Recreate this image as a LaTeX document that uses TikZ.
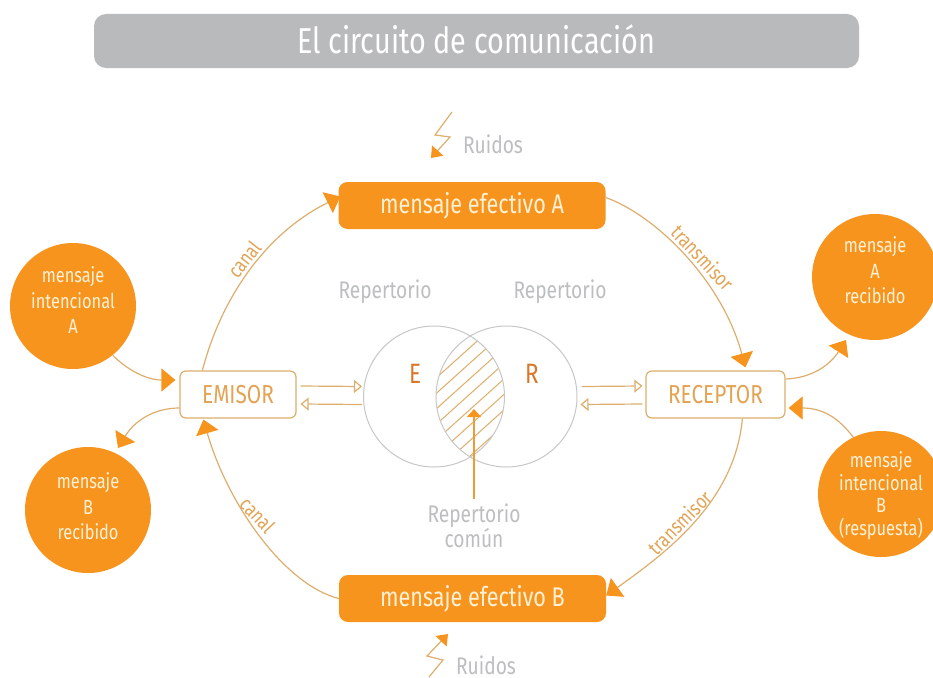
\documentclass[tikz,border=0pt]{standalone}
\usepackage{fontspec}
\setmainfont[FakeStretch=0.8]{Fira Sans}
\usetikzlibrary{arrows.meta,calc}
\definecolor{orangeF}{HTML}{F7941E}
\definecolor{tanL}{HTML}{DDAE6C}
\definecolor{grayT}{HTML}{BDBEC0}
\definecolor{grayB}{HTML}{B9BABC}
\definecolor{creamT}{HTML}{FFF1D6}
\definecolor{labelO}{HTML}{E3A353}
\definecolor{letterO}{HTML}{D9772B}
\newcommand{\discrows}[2]{\raisebox{#1}[\height][\depth]{\begin{tabular}{@{}c@{}}#2\end{tabular}}}
\tikzset{
  msgbox/.style={fill=orangeF,rounded corners=9pt,minimum width=267pt,minimum height=47pt,inner sep=0pt,text=creamT,font=\fontsize{27}{30}\selectfont},
  rolebox/.style={draw=tanL,line width=1.2pt,fill=white,rounded corners=6pt,minimum height=47pt,inner sep=0pt,text=labelO,font=\fontsize{26}{30}\selectfont},
  disc/.style={circle,fill=orangeF,minimum size=126pt,inner sep=0pt,text=creamT,align=center,font=\fontsize{20.5}{25.5}\selectfont},
  graytxt/.style={text=grayT,font=\fontsize{24}{21}\selectfont,align=center,inner sep=0pt},
  pathlabel/.style={text=labelO,font=\fontsize{20.5}{22}\selectfont,inner sep=0pt},
  flow/.style={draw=tanL,line width=1.2pt,-{Triangle[length=14pt,width=23pt,color=orangeF,fill=orangeF]}},
  exchange/.style={draw=tanL,line width=1.2pt,-{Triangle[open,length=8pt,width=13pt,color=tanL,fill=white]}},
  bolt/.style={draw=tanL,line width=1.2pt,-{Triangle[length=10pt,width=15pt,color=orangeF,fill=orangeF]}},
  venn/.style={circle,draw=black!22,line width=1pt,minimum size=141pt,inner sep=0pt},
}
\begin{document}
\begin{tikzpicture}[x=1pt,y=-1pt]
\useasboundingbox (0,0) rectangle (933,677);
\fill[white] (0,0) rectangle (933,677);
% title
\node[fill=grayB,rounded corners=12pt,minimum width=765pt,minimum height=54pt,inner sep=0pt,text=white,font=\fontsize{36}{38}\selectfont] (title) at (476.5,41) {\raisebox{2pt}[\height][\depth]{El circuito de comunicación}};
% main nodes
\node[msgbox] (msgA) at (472,205.5) {mensaje efectivo A};
\node[msgbox] (msgB) at (472.5,598.5) {mensaje efectivo B};
\node[rolebox,minimum width=116pt] (emisor) at (238,394.5) {EMISOR};
\node[rolebox,minimum width=139pt] (receptor) at (715.5,394.5) {RECEPTOR};
\node[disc] (intA) at (73,306) {\discrows{3pt}{mensaje\\intencional\\A}};
\node[disc] (recB) at (88,510) {\discrows{1pt}{mensaje\\B\\recibido}};
\node[disc] (recA) at (875,277) {\discrows{4pt}{mensaje\\A\\recibido}};
\node[disc,font=\fontsize{20.5}{22}\selectfont] (intB) at (881,494) {\discrows{-3pt}{mensaje\\intencional\\B\\(respuesta)}};
% venn
\begin{scope}
  \clip (434,396.5) circle[radius=70.5pt];
  \clip (506.5,396.5) circle[radius=70.5pt];
  \foreach \k in {0,...,12}{
    \draw[tanL,line width=1pt] (430,{337+15.5*\k}) -- (510,{337+15.5*\k-72});
  }
\end{scope}
\node[venn] (vennE) at (434,396.5) {};
\node[venn] (vennR) at (506.5,396.5) {};
\node[text=letterO,font=\fontsize{28}{30}\selectfont,inner sep=0pt] (letE) at (415,374) {E};
\node[text=letterO,font=\fontsize{28}{30}\selectfont,inner sep=0pt] (letR) at (532,374) {R};
\node[graytxt] (repE) at (385,292) {Repertorio};
\node[graytxt] (repR) at (560,292) {Repertorio};
\node[graytxt] (repC) at (474,526) {Repertorio\\común};
\coordinate (commonTip) at (474,409);
\draw[draw=orangeF!70!tanL,line width=1.5pt,-{Triangle[length=8pt,width=14pt,color=orangeF,fill=orangeF]}] ($(repC.north -| commonTip)+(0,-5)$) -- (commonTip);
% exchange arrows
\draw[exchange] ($(emisor.east)+(4,-8.5)$) -- ($(vennE.west)+(-1,-10)$);
\draw[exchange] ($(vennE.west)+(-1,8)$) -- ($(emisor.east)+(4,9.5)$);
\draw[exchange] ($(vennR.east)+(4,-10)$) -- ($(receptor.west)+(-3,-8.5)$);
\draw[exchange] ($(receptor.west)+(-3,9.5)$) -- ($(vennR.east)+(3,8)$);
% ring
\draw[flow] ($(emisor.north west)+(23,0)$) .. controls (222,295) and (268,232) .. ($(msgA.west)+(2,-9)$);
\draw[flow] ($(msgA.east)+(0,-8)$) .. controls (655,215) and (722,280) .. ($(receptor.north west)+(100,-3)$);
\draw[flow] ($(receptor.south west)+(97,0)$) .. controls (735,500) and (670,550) .. ($(msgB.east)+(0,-3)$);
\draw[flow] (msgB.west) .. controls (285,585) and (228,505) .. ($(emisor.south west)+(24,1)$);
% side arrows
\draw[flow] (intA.-51) .. controls (125,368) and (145,380) .. ($(emisor.west)+(-4,-14.5)$);
\draw[flow] ($(emisor.west)+(0,13.5)$) .. controls (155,408) and (135,420) .. (118,448);
\draw[flow] ($(receptor.east)+(0,-15.5)$) .. controls (812,378) and (830,365) .. (846,340);
\draw[flow] (intB.116) .. controls (840,420) and (825,408) .. ($(receptor.east)+(3,13.5)$);
% ruidos
\coordinate (b1a) at (452,112);
\coordinate (b1b) at (435,135);
\coordinate (b1c) at (450,137);
\coordinate (b1d) at (431,158);
\draw[bolt] (b1a) -- (b1b) -- (b1c) -- (b1d);
\node[graytxt] (ruidosA) at (493,144) {Ruidos};
\coordinate (b2a) at (429,677);
\coordinate (b2b) at (443,660);
\coordinate (b2c) at (427,656);
\coordinate (b2d) at (448,634);
\draw[bolt] (b2a) -- (b2b) -- (b2c) -- (b2d);
\node[graytxt] (ruidosB) at (486,665) {Ruidos};
% path labels
\node[pathlabel,rotate=52,anchor=base] (canalA) at (250,264) {canal};
\node[pathlabel,rotate=-47,anchor=base] (canalB) at (252,520) {canal};
\node[pathlabel,rotate=-47,anchor=base] (transA) at (697,263) {transmisor};
\node[pathlabel,rotate=45,anchor=base] (transB) at (685,528) {transmisor};
\end{tikzpicture}
\end{document}
